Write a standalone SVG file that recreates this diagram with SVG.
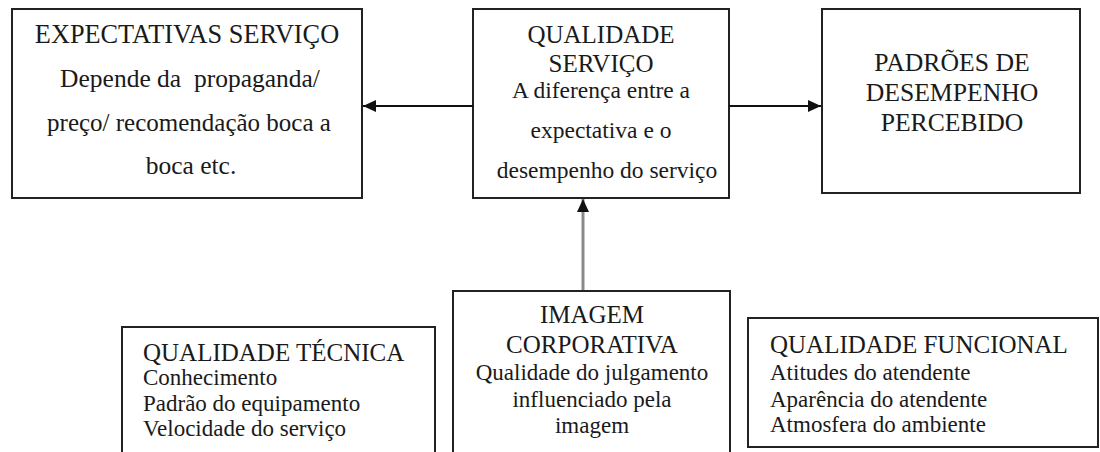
<svg xmlns="http://www.w3.org/2000/svg" width="1100" height="452" viewBox="0 0 1100 452">
<style>
.box{fill:#fff;stroke:#222;stroke-width:2}
.t{font-family:'Liberation Serif','Times New Roman','Tinos','DejaVu Serif',serif;fill:#1a1a1a}
.c{text-anchor:middle}
.h{font-size:25px}
.b{font-size:23.5px}
.s{font-size:23px}
.ln{stroke:#111;stroke-width:2;fill:none}
.gl{stroke:#8a8a8a;stroke-width:3;fill:none}
</style>
<defs>
<marker id="ah" markerUnits="userSpaceOnUse" markerWidth="14" markerHeight="14" refX="13" refY="6" orient="auto">
<path d="M0,0 L13,6 L0,12 Z" fill="#111"/>
</marker>
</defs>
<rect width="1100" height="452" fill="#fff"/>
<g id="expectativas">
<rect class="box" x="12" y="9" width="350" height="189"/>
<text class="t c h" x="187" y="43" style="font-size:26.3px">EXPECTATIVAS SERVIÇO</text>
<text class="t c" x="190" y="87" xml:space="preserve" style="font-size:25.5px">Depende da  propaganda/</text>
<text class="t c" x="189" y="131" style="font-size:25px">preço/ recomendação boca a</text>
<text class="t c" x="191" y="174" style="font-size:25.5px">boca etc.</text>
</g>
<g id="qualidade-servico">
<rect class="box" x="473" y="9" width="256" height="189"/>
<text class="t c h" x="601" y="43">QUALIDADE</text>
<text class="t c h" x="601" y="72">SERVIÇO</text>
<text class="t c b" x="601" y="98">A diferença entre a</text>
<text class="t c b" x="601" y="138">expectativa e o</text>
<text class="t c b" x="607" y="178">desempenho do serviço</text>
</g>
<g id="padroes">
<rect class="box" x="822" y="9" width="258" height="184"/>
<text class="t c h" x="952" y="71" style="font-size:25.7px">PADRÕES DE</text>
<text class="t c h" x="952" y="101" style="font-size:25.7px">DESEMPENHO</text>
<text class="t c h" x="952" y="131" style="font-size:25.7px">PERCEBIDO</text>
</g>
<g id="qualidade-tecnica">
<rect class="box" x="122" y="327" width="313" height="140"/>
<text class="t h" x="143" y="361">QUALIDADE TÉCNICA</text>
<text class="t s" x="143" y="385">Conhecimento</text>
<text class="t s" x="143" y="411">Padrão do equipamento</text>
<text class="t s" x="143" y="436">Velocidade do serviço</text>
</g>
<g id="imagem-corporativa">
<rect class="box" x="453" y="291" width="277" height="180"/>
<text class="t c h" x="592" y="323">IMAGEM</text>
<text class="t c h" x="592" y="353">CORPORATIVA</text>
<text class="t c s" x="592" y="380">Qualidade do julgamento</text>
<text class="t c s" x="592" y="407">influenciado pela</text>
<text class="t c s" x="592" y="433">imagem</text>
</g>
<g id="qualidade-funcional">
<rect class="box" x="748" y="318" width="350" height="129"/>
<text class="t h" x="770" y="353">QUALIDADE FUNCIONAL</text>
<text class="t s" x="770" y="380">Atitudes do atendente</text>
<text class="t s" x="770" y="407">Aparência do atendente</text>
<text class="t s" x="770" y="432">Atmosfera do ambiente</text>
</g>
<g id="connectors">
<line class="ln" x1="473" y1="106" x2="363" y2="106" marker-end="url(#ah)"/>
<line class="ln" x1="729" y1="106" x2="821" y2="106" marker-end="url(#ah)"/>
<line class="gl" x1="583" y1="290" x2="583" y2="199" marker-end="url(#ah)"/>
</g>
</svg>
